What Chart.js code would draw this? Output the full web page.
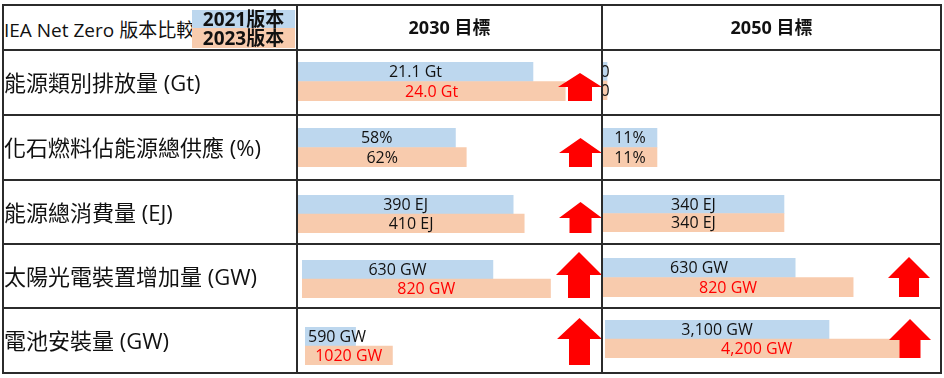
<!DOCTYPE html>
<html>
<head>
<meta charset="utf-8">
<script src="https://cdn.jsdelivr.net/npm/chart.js@4.4.1/dist/chart.umd.min.js"></script>
<style>
  body { margin: 0; background: #fff; }
  #wrap { position: relative; width: 944px; height: 378px; overflow: hidden; background: #fff;
    font-family: "Open Sans", "Noto Sans CJK TC", sans-serif; color: #111; }
  .line { position: absolute; background: #2b2b2b; z-index: 3; }
  .txt { position: absolute; z-index: 2; white-space: nowrap; }
  canvas { position: absolute; z-index: 1; }
</style>
</head>
<body>
<div id="wrap"></div>
<script>
'use strict'

// data
const title = 'IEA Net Zero 版本比較';
const versions = ['2021版本', '2023版本'];
const columns = ['2030 目標', '2050 目標'];
const rowLabels = ['能源類別排放量 (Gt)', '化石燃料佔能源總供應 (%)', '能源總消費量 (EJ)', '太陽光電裝置增加量 (GW)', '電池安裝量 (GW)'];
const units = ['Gt', '%', 'EJ', 'GW', 'GW'];
const decimals = [1, 0, 0, 0, 0];
const y2030v2021 = [21.1, 58, 390, 630, 590];
const y2030v2023 = [24.0, 62, 410, 820, 1020];
const y2050v2021 = [0, 11, 340, 630, 3100];
const y2050v2023 = [0, 11, 340, 820, 4200];

// layout
const colX = [3, 297, 602, 941];
const rowY = [5, 50, 115, 180, 244, 308, 373];
const blue = '#BDD7EE';
const orange = '#F8CBAD';
const redLabel = [true, false, false, true, true];
const grouping = [false, true]; // thousands separator per column

// per cell: padding, scale max, arrow shape
const cells2030 = [
  { l: 1, t: 12, b: 14, max: 27.3, arrow: { w: 44, h: 28, head: 14, shaft: 24, inset: 0 } },
  { l: 1, t: 13, b: 13, max: 112, arrow: { w: 43, h: 29, head: 15, shaft: 23, inset: 0 } },
  { l: 1, t: 15, b: 11, max: 551, arrow: { w: 43, h: 31, head: 16, shaft: 22, inset: 0 } },
  { l: 5, t: 16, b: 10, max: 990, arrow: { w: 46, h: 46, head: 23, shaft: 22, inset: 0 } },
  { l: 8, t: 19, b: 8, max: 3465, arrow: { w: 45, h: 47, head: 21, shaft: 21, inset: 0 } }
];
const cells2050 = [
  { l: 1, t: 12, b: 15, max: 10, arrow: null },
  { l: 1, t: 13, b: 13, max: 68.9, arrow: null },
  { l: 1, t: 15, b: 12, max: 635, arrow: null },
  { l: 1, t: 14, b: 11, max: 1108, arrow: { w: 42, h: 40, head: 21, shaft: 20, inset: 11 } },
  { l: 3, t: 12, b: 15, max: 4650, arrow: { w: 42, h: 39, head: 21, shaft: 21, inset: 10 } }
];

const wrap = document.getElementById('wrap');

function addDiv(cls, style, text) {
  const d = document.createElement('div');
  d.className = cls;
  Object.assign(d.style, style);
  if (text !== undefined) d.textContent = text;
  wrap.appendChild(d);
  return d;
}

// grid lines
rowY.forEach(y => addDiv('line', { left: (colX[0] - 1) + 'px', top: (y - 1) + 'px', width: (colX[3] - colX[0] + 2) + 'px', height: '2px' }));
colX.forEach(x => addDiv('line', { left: (x - 1) + 'px', top: (rowY[0] - 1) + 'px', width: '2px', height: (rowY[6] - rowY[0] + 2) + 'px' }));

// header
addDiv('txt', { left: '4px', top: '12px', fontSize: '19px', lineHeight: '36px' }, title);
addDiv('txt', { left: '192px', top: '10px', width: '103px', height: '18px', background: blue, fontSize: '19px', fontWeight: 'bold',
  lineHeight: '18px', textAlign: 'center' }, versions[0]);
addDiv('txt', { left: '192px', top: '28px', width: '103px', height: '20px', background: orange, fontSize: '19px', fontWeight: 'bold',
  lineHeight: '20px', textAlign: 'center' }, versions[1]);
columns.forEach((c, i) => addDiv('txt', { left: colX[i + 1] + 'px', top: rowY[0] + 'px', width: (colX[i + 2] - colX[i + 1]) + 'px',
  height: (rowY[1] - rowY[0]) + 'px', lineHeight: (rowY[1] - rowY[0]) + 'px', textAlign: 'center', fontSize: '18px', fontWeight: 'bold' }, c));

// row labels
rowLabels.forEach((r, i) => addDiv('txt', { left: '4px', top: rowY[i + 1] + 'px', height: (rowY[i + 2] - rowY[i + 1]) + 'px',
  lineHeight: (rowY[i + 2] - rowY[i + 1]) + 'px', fontSize: '22px' }, r));

function fmt(v, row, col) {
  if (v === 0) return '0';
  const s = v.toLocaleString('en-US', { minimumFractionDigits: decimals[row], maximumFractionDigits: decimals[row], useGrouping: grouping[col] });
  return units[row] === '%' ? s + '%' : s + ' ' + units[row];
}

const labelPlugin = {
  id: 'barLabels',
  afterDatasetsDraw(chart, args, opts) {
    const ctx = chart.ctx;
    const meta = chart.getDatasetMeta(0);
    const vals = chart.data.datasets[0].data;
    const rose = vals[1] > vals[0];
    ctx.save();
    ctx.font = '16px "Open Sans", "Noto Sans CJK TC", sans-serif';
    ctx.textAlign = 'center';
    ctx.textBaseline = 'middle';
    meta.data.forEach((bar, i) => {
      const text = fmt(vals[i], opts.row, opts.col);
      let x = (bar.base + bar.x) / 2;
      if (vals[i] !== 0) x = Math.max(x, chart.chartArea.left + ctx.measureText(text).width / 2 + 3);
      ctx.fillStyle = (i === 1 && opts.red && rose) ? '#FF0000' : '#111';
      ctx.fillText(text, x, bar.y + 1);
    });
    ctx.restore();
  }
};

const arrowPlugin = {
  id: 'upArrow',
  afterDraw(chart, args, opts) {
    const a = opts.shape;
    const vals = chart.data.datasets[0].data;
    if (!a || !(vals[1] > vals[0])) return;
    const area = chart.chartArea;
    const right = area.right - a.inset;
    const left = right - a.w;
    const cx = (left + right) / 2;
    const bottom = area.bottom;
    const top = bottom - a.h;
    const ctx = chart.ctx;
    ctx.save();
    ctx.fillStyle = '#FF0000';
    ctx.beginPath();
    ctx.moveTo(cx, top);
    ctx.lineTo(right, top + a.head);
    ctx.lineTo(cx + a.shaft / 2, top + a.head);
    ctx.lineTo(cx + a.shaft / 2, bottom);
    ctx.lineTo(cx - a.shaft / 2, bottom);
    ctx.lineTo(cx - a.shaft / 2, top + a.head);
    ctx.lineTo(left, top + a.head);
    ctx.closePath();
    ctx.fill();
    ctx.restore();
  }
};

function makeCell(col, row, v21, v23, cfg) {
  const cv = document.createElement('canvas');
  const w = colX[col + 2] - colX[col + 1];
  const h = rowY[row + 2] - rowY[row + 1];
  cv.width = w;
  cv.height = h;
  cv.style.left = colX[col + 1] + 'px';
  cv.style.top = rowY[row + 1] + 'px';
  wrap.appendChild(cv);
  new Chart(cv.getContext('2d'), {
    type: 'bar',
    data: {
      labels: versions,
      datasets: [{
        data: [v21, v23],
        backgroundColor: [blue, orange],
        borderWidth: 0,
        barPercentage: 1,
        categoryPercentage: 1,
        minBarLength: 4
      }]
    },
    options: {
      indexAxis: 'y',
      responsive: false,
      animation: false,
      layout: { padding: { left: cfg.l, right: 0, top: cfg.t, bottom: cfg.b } },
      scales: {
        x: { display: false, min: 0, max: cfg.max },
        y: { display: false }
      },
      plugins: {
        legend: { display: false },
        tooltip: { enabled: false },
        barLabels: { row: row, col: col, red: redLabel[row] },
        upArrow: { shape: cfg.arrow }
      }
    },
    plugins: [labelPlugin, arrowPlugin]
  });
}

rowLabels.forEach((r, i) => {
  makeCell(0, i, y2030v2021[i], y2030v2023[i], cells2030[i]);
  makeCell(1, i, y2050v2021[i], y2050v2023[i], cells2050[i]);
});
</script>
</body>
</html>
